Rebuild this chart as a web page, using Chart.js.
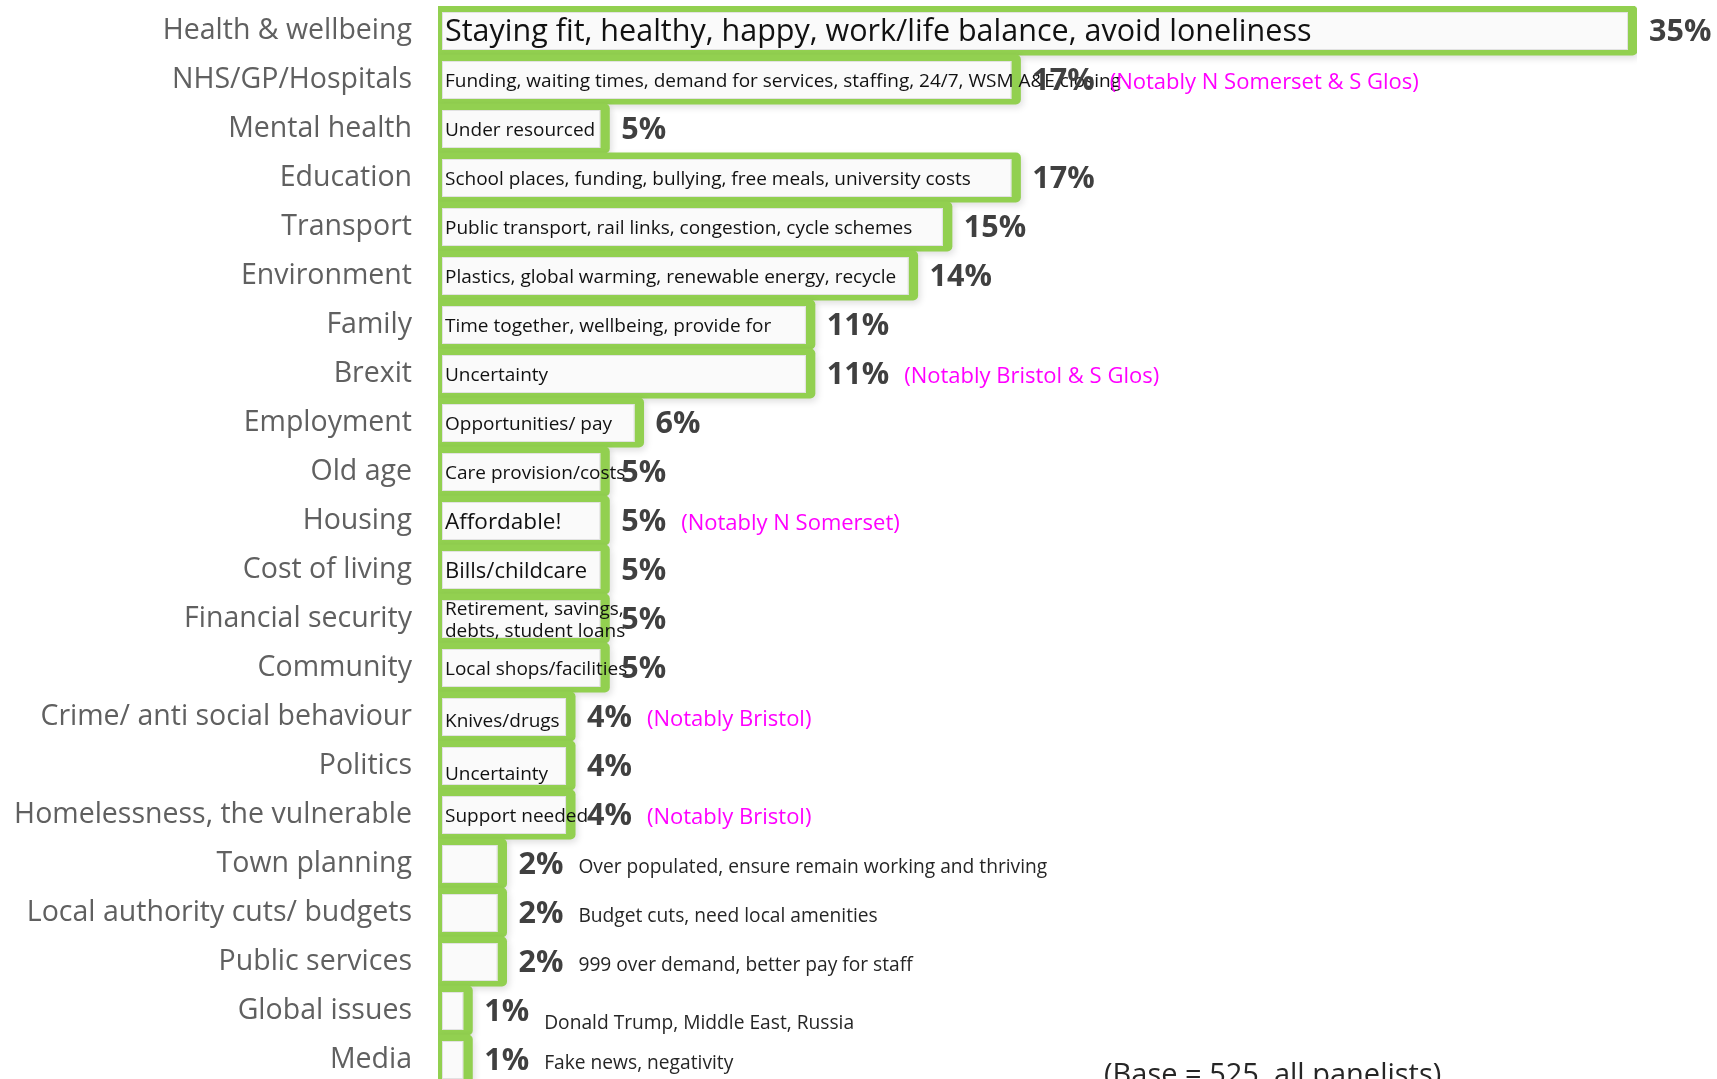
<!DOCTYPE html>
<html>
<head>
<meta charset="utf-8">
<script src="https://cdn.jsdelivr.net/npm/chart.js@4.4.0/dist/chart.umd.min.js"></script>
<style>
  html, body { margin: 0; padding: 0; background: #ffffff; overflow: hidden; }
  #wrap { width: 1717px; height: 1079px; overflow: hidden; position: relative; background: #ffffff; }
  canvas { display: block; }
</style>
</head>
<body>
<div id="wrap"><canvas id="c" width="1717" height="1090"></canvas></div>
<script>
// ---------- DATA ----------
const categories = [
  "Health & wellbeing", "NHS/GP/Hospitals", "Mental health", "Education", "Transport",
  "Environment", "Family", "Brexit", "Employment", "Old age", "Housing", "Cost of living",
  "Financial security", "Community", "Crime/ anti social behaviour", "Politics",
  "Homelessness, the vulnerable", "Town planning", "Local authority cuts/ budgets",
  "Public services", "Global issues", "Media"
];
const values = [35, 17, 5, 17, 15, 14, 11, 11, 6, 5, 5, 5, 5, 5, 4, 4, 4, 2, 2, 2, 1, 1];
const boxTexts = [
  "Staying fit, healthy, happy, work/life balance, avoid loneliness",
  "Funding, waiting times, demand for services, staffing, 24/7, WSM A&E closing",
  "Under resourced",
  "School places, funding, bullying, free meals, university costs",
  "Public transport, rail links, congestion, cycle schemes",
  "Plastics, global warming, renewable energy, recycle",
  "Time together, wellbeing, provide for",
  "Uncertainty",
  "Opportunities/ pay",
  "Care provision/costs",
  "Affordable!",
  "Bills/childcare",
  "Retirement, savings,\ndebts, student loans",
  "Local shops/facilities",
  "Knives/drugs",
  "Uncertainty",
  "Support needed",
  "", "", "", "", ""
];
const sideTexts = [
  "", "", "", "", "", "", "", "", "", "", "", "", "", "", "", "", "",
  "Over populated, ensure remain working and thriving",
  "Budget cuts, need local amenities",
  "999 over demand, better pay for staff",
  "Donald Trump, Middle East, Russia",
  "Fake news, negativity"
];
const notes = [
  "", "(Notably N Somerset & S Glos)", "", "", "", "", "", "(Notably Bristol & S Glos)",
  "", "", "(Notably N Somerset)", "", "", "", "(Notably Bristol)", "", "(Notably Bristol)",
  "", "", "", "", ""
];
const baseNote = "(Base = 525, all panelists)";

// ---------- STYLE ----------
const FONT = "'Open Sans', 'DejaVu Sans', sans-serif";
const GREEN = "#92D050";
const boxFontSize = { 0: 30.5, 10: 22.5, 11: 22 };
const defaultBoxFont = 19;
const boxTextShift = { 14: 3, 15: 7 };
const sideTextShift = { 20: 9 };

const overlayPlugin = {
  id: 'overlay',
  beforeDatasetsDraw(chart) {
    const ctx = chart.ctx;
    ctx.save();
    ctx.shadowColor = 'rgba(0,0,0,0.13)';
    ctx.shadowBlur = 7;
    ctx.shadowOffsetX = 2;
    ctx.shadowOffsetY = 3;
  },
  afterDatasetsDraw(chart) {
    const ctx = chart.ctx;
    ctx.restore();
    const meta = chart.getDatasetMeta(0);
    meta.data.forEach((el, i) => {
      const p = el.getProps(['x', 'y', 'base', 'height'], true);
      const top = p.y - p.height / 2, bot = p.y + p.height / 2;
      // inner white box
      const bl = p.base + 4, br = p.x - 9;
      const bt = top + 6, bb = bot - 5;
      ctx.save();
      ctx.fillStyle = '#FAFAFA';
      ctx.strokeStyle = '#E2E2E2';
      ctx.lineWidth = 1;
      ctx.fillRect(bl, bt, br - bl, bb - bt);
      ctx.strokeRect(bl + 0.5, bt + 0.5, br - bl - 1, bb - bt - 1);
      ctx.restore();
      // text inside the box
      const t = boxTexts[i];
      if (t) {
        const fs = boxFontSize[i] || defaultBoxFont;
        ctx.save();
        ctx.fillStyle = '#111111';
        ctx.font = `${fs}px ${FONT}`;
        ctx.textAlign = 'left';
        ctx.textBaseline = 'middle';
        const lines = t.split('\n');
        const lh = fs * 1.15;
        const shift = boxTextShift[i] || 0;
        lines.forEach((ln, k) => {
          ctx.fillText(ln, bl + 3, p.y + 2 + shift + (k - (lines.length - 1) / 2) * lh);
        });
        ctx.restore();
      }
      // percentage label
      ctx.save();
      ctx.font = `bold 30.5px ${FONT}`;
      ctx.fillStyle = '#404040';
      ctx.textAlign = 'left';
      ctx.textBaseline = 'middle';
      const lab = values[i] + '%';
      const lx = p.x + 12;
      ctx.fillText(lab, lx, p.y + 2);
      let endX = lx + ctx.measureText(lab).width;
      ctx.restore();
      if (sideTexts[i]) {
        ctx.save();
        ctx.font = `19.2px ${FONT}`;
        ctx.fillStyle = '#262626';
        ctx.textBaseline = 'middle';
        ctx.fillText(sideTexts[i], endX + 15, p.y + 4 + (sideTextShift[i] || 0));
        ctx.restore();
      }
      if (notes[i]) {
        ctx.save();
        ctx.font = `22px ${FONT}`;
        ctx.fillStyle = '#FF00FF';
        ctx.textBaseline = 'middle';
        ctx.fillText(notes[i], endX + 15, p.y + 3);
        ctx.restore();
      }
    });
    // base note
    ctx.save();
    ctx.font = `29px ${FONT}`;
    ctx.fillStyle = '#262626';
    ctx.textBaseline = 'top';
    ctx.fillText(baseNote, 1104, 1061);
    ctx.restore();
  }
};

new Chart(document.getElementById('c'), {
  type: 'bar',
  data: {
    labels: categories,
    datasets: [{
      data: values,
      backgroundColor: GREEN,
      borderWidth: 0,
      borderRadius: { topRight: 5, bottomRight: 5, topLeft: 0, bottomLeft: 0 },
      borderSkipped: false,
      barPercentage: 1,
      categoryPercentage: 1,
      inflateAmount: 0.5
    }]
  },
  options: {
    indexAxis: 'y',
    responsive: false,
    animation: false,
    devicePixelRatio: 1,
    layout: { padding: { top: 6, bottom: 6, right: 80, left: 0 } },
    plugins: { legend: { display: false }, tooltip: { enabled: false } },
    scales: {
      x: { display: false, min: 0, max: 35 },
      y: {
        grid: { display: false, drawTicks: false },
        border: { display: true, color: '#D9D9D9', width: 1 },
        ticks: {
          color: '#606060',
          font: { family: FONT, size: 28.5 },
          padding: 26,
          autoSkip: false
        },
        afterFit(scale) {
          scale.width = 438;
          scale.paddingTop = 0;
          scale.paddingBottom = 0;
        }
      }
    }
  },
  plugins: [overlayPlugin]
});
</script>
</body>
</html>
